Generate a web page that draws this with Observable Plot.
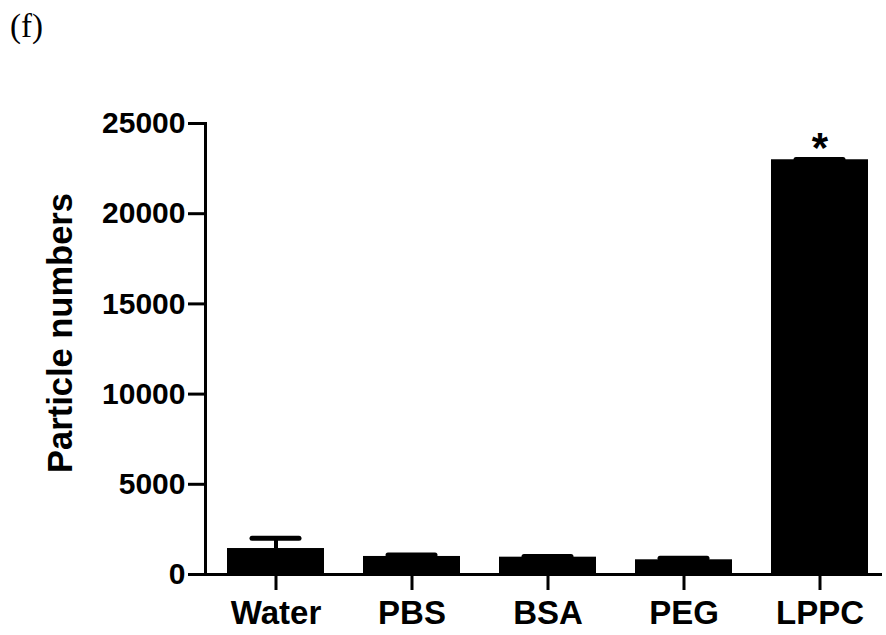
<!DOCTYPE html>
<html><head><meta charset="utf-8">
<script src="https://cdn.jsdelivr.net/npm/d3@7"></script>
<script src="https://cdn.jsdelivr.net/npm/@observablehq/plot@0.6"></script>
<style>
body{margin:0;background:#fff}
#wrap{position:relative;width:886px;height:635px}
#tag{position:absolute;left:10px;top:10px;font-family:'Liberation Serif','Times New Roman',serif;font-size:33px;line-height:1;color:#000}
</style>
</head><body><div id="wrap"><div id="tag"></div></div>
<script>
const categories = ["Water", "PBS", "BSA", "PEG", "LPPC"];
const means = [1440, 1000, 960, 815, 22990];
const errors = [570, 80, 40, 85, 20];
const marks = ["", "", "", "", "*"];
const yTicks = [0, 5000, 10000, 15000, 20000, 25000];
const panelLabel = "(f)";
const yLabel = "Particle numbers";

const data = categories.map((c, i) => ({cat: c, mean: means[i], err: errors[i], top: means[i] + errors[i], mark: marks[i]}));
document.getElementById("tag").textContent = panelLabel;

const font = "'Liberation Sans', Arial, sans-serif";
const chart = Plot.plot({
  width: 886, height: 635,
  marginLeft: 205, marginRight: 6, marginTop: 123, marginBottom: 61,
  style: {fontFamily: font, background: "white", color: "black"},
  x: {domain: categories, paddingInner: 0.29, paddingOuter: 0.122, align: 0.645, label: null},
  y: {domain: [0, 25000], label: null},
  marks: [
    Plot.barY(data, {x: "cat", y: "mean", fill: "black"}),
    Plot.ruleX(data, {x: "cat", y1: "mean", y2: "top", strokeWidth: 4}),
    Plot.tickY(data, {x: "cat", y: "top", strokeWidth: 5, strokeLinecap: "round", insetLeft: 25, insetRight: 25}),
    Plot.text(data, {x: "cat", y: "top", text: "mark", lineAnchor: "bottom", fontSize: 42, fontWeight: "bold", dy: 3}),
    Plot.frame({anchor: "left", strokeWidth: 3}),
    Plot.frame({anchor: "bottom", strokeWidth: 3}),
    Plot.axisY({ticks: yTicks, tickFormat: d => String(d), tickSize: 17, tickPadding: 3, strokeWidth: 3, fontSize: 30, fontWeight: "bold", label: null}),
    Plot.axisX({tickSize: 16, tickPadding: 10, strokeWidth: 3, fontSize: 33, fontWeight: "bold", label: null}),
    Plot.text([yLabel], {frameAnchor: "left", textAnchor: "middle", text: d => d, rotate: -90, dx: -145, dy: -16, fontSize: 34.5, fontWeight: "bold"})
  ]
});
document.getElementById("wrap").appendChild(chart);
</script>
</body></html>
